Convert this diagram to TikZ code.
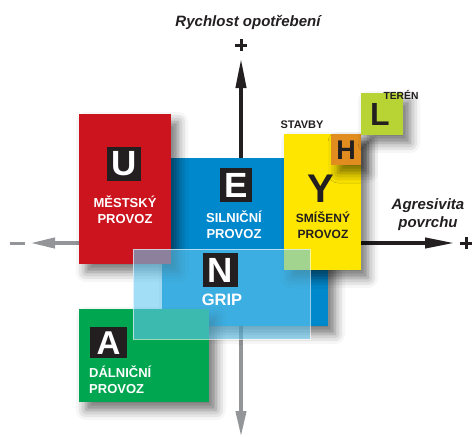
\documentclass[tikz,border=0pt]{standalone}
\usepackage{fontspec}
\setmainfont{Liberation Sans}
\usetikzlibrary{shadows.blur,arrows.meta}
\definecolor{cred}{RGB}{204,20,30}
\definecolor{cblue}{RGB}{0,136,204}
\definecolor{cyel}{RGB}{255,230,0}
\definecolor{cgreen}{RGB}{0,166,80}
\definecolor{corange}{RGB}{224,140,30}
\definecolor{clime}{RGB}{184,212,52}
\definecolor{cdark}{RGB}{35,31,32}
\definecolor{cgray}{RGB}{147,149,152}
\definecolor{cover}{RGB}{100,200,240}
\begin{document}
\begin{tikzpicture}[x=1pt,y=-1pt,
  box/.style={anchor=north west,inner sep=0pt,outer sep=0pt},
  shad/.style={blur shadow={shadow xshift=7pt,shadow yshift=-8pt,shadow blur radius=10pt,shadow opacity=55}},
  badge/.style={box,fill=cdark},
  bigl/.style={font=\bfseries\fontsize{#1}{#1}\selectfont,inner sep=0pt},
  lbl/.style={font=\bfseries\fontsize{13}{16}\selectfont,align=center,inner sep=0pt},
  axlbl/.style={font=\bfseries\itshape\fontsize{15}{18}\selectfont,text=cdark,align=center,inner sep=0pt},
  plus/.style={line width=3pt,cdark}]
\useasboundingbox (0,0) rectangle (472,437);

% axes (behind)
\coordinate (vtop) at (241,58);
\coordinate (vbot) at (241,437);
\coordinate (hleft) at (30,243);
\coordinate (hright) at (455,243);
\coordinate (vmid) at (241,200);
\coordinate (hl0) at (90,243);
\coordinate (hr0) at (330,243);
\draw[line width=4pt,cdark,-{Triangle[length=30pt,width=10pt]}] (vmid) -- (vtop);
\draw[line width=4pt,cgray,-{Triangle[length=26pt,width=10pt]}] (vmid) -- (vbot);
\draw[line width=4pt,cgray,-{Triangle[length=25pt,width=10pt]}] (hl0) -- (hleft);
\draw[line width=4pt,cdark,-{Triangle[length=30pt,width=10pt]}] (hr0) -- (hright);
\coordinate (m1) at (10,243); \coordinate (m2) at (25,243);
\draw[line width=3pt,cgray] (m1) -- (m2);
% plus signs
\coordinate (pt1) at (235,45); \coordinate (pt2) at (247,45);
\coordinate (pt3) at (241,39); \coordinate (pt4) at (241,51);
\draw[plus] (pt1) -- (pt2) (pt3) -- (pt4);
\coordinate (pr1) at (460,243); \coordinate (pr2) at (472,243);
\coordinate (pr3) at (466,237); \coordinate (pr4) at (466,249);
\draw[plus] (pr1) -- (pr2) (pr3) -- (pr4);

% blue boxes
\node[box,fill=cblue,minimum width=166pt,minimum height=111pt,shad] (nbox) at (162,215) {};
\node[box,fill=cblue,minimum width=113pt,minimum height=100pt] (ebox) at (171,158) {};
% red box
\node[box,fill=cred,minimum width=92pt,minimum height=150pt,shad] (ubox) at (79,114) {};
% green box
\node[box,fill=cgreen,minimum width=130pt,minimum height=93pt,shad] (abox) at (79,309) {};
% yellow box
\node[box,fill=cyel,minimum width=77pt,minimum height=136pt,shad] (ybox) at (284,134) {};
% H, L badges
\node[box,fill=corange,minimum width=30pt,minimum height=31pt,shad] (hbox) at (331,134) {};
\node[box,fill=clime,minimum width=42pt,minimum height=42pt,shad] (lbox) at (361,93) {};
\node[bigl=27,text=cdark] (hlet) at (346,150) {H};
\node[bigl=32,text=cdark] (llet) at (380,114) {L};

% letter badges
\node[badge,minimum width=34pt,minimum height=34pt] (ub) at (107,147) {};
\node[bigl=35,text=white] (ul) at (124,164) {U};
\node[badge,minimum width=32pt,minimum height=34pt] (eb) at (220,168) {};
\node[bigl=35,text=white] (el) at (236,185) {E};
\node[bigl=40,text=cdark] (yl) at (321,189) {Y};

% labels
\node[lbl,text=white] (ut) at (125,210) {MĚSTSKÝ\\PROVOZ};
\node[lbl,text=white] (et) at (234,225) {SILNIČNÍ\\PROVOZ};
\node[lbl,text=cdark,font=\bfseries\fontsize{12}{16}\selectfont] (yt) at (323,225) {SMÍŠENÝ\\PROVOZ};
\node[lbl,text=cdark,font=\bfseries\fontsize{11}{13}\selectfont] (st) at (302,125) {STAVBY};
\node[lbl,text=cdark,font=\bfseries\fontsize{10.3}{12}\selectfont] (tt) at (401,95) {TERÉN};

% overlay
\node[box,fill=cover,fill opacity=0.6,draw=white,draw opacity=0.6,line width=0.8pt,minimum width=177pt,minimum height=90pt] (ov) at (133,249) {};
\node[badge,minimum width=35pt,minimum height=34pt] (nb) at (203,253) {};
\node[bigl=35,text=white] (nl) at (220.5,270) {N};
\node[lbl,text=white,font=\bfseries\fontsize{16.5}{18}\selectfont] (gt) at (222,300) {GRIP};

% A
\node[badge,minimum width=37pt,minimum height=31pt] (ab) at (90,327) {};
\node[bigl=33,text=white] (al) at (108.5,343) {A};
\node[lbl,text=white,anchor=west,align=left] (at) at (89,380) {DÁLNIČNÍ\\PROVOZ};

% axis titles
\node[axlbl] (t1) at (248,22) {Rychlost opotřebení};
\node[axlbl] (t2) at (428,215) {Agresivita\\povrchu};
\end{tikzpicture}
\end{document}
